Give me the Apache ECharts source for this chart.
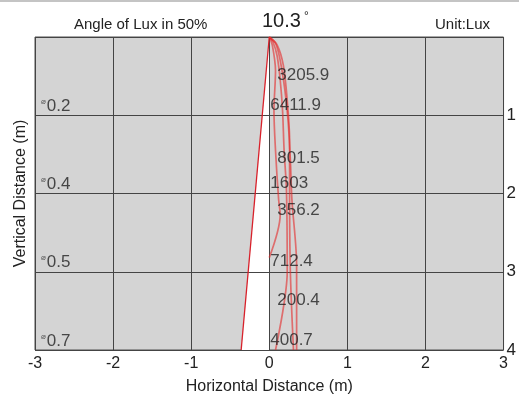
<!DOCTYPE html>
<html>
<head>
<meta charset="utf-8">
<title>Angle of Lux</title>
<script src="https://cdn.jsdelivr.net/npm/echarts@6/dist/echarts.min.js"></script>
<style>
  html, body { margin: 0; padding: 0; background: #fff; }
  #chart { width: 519px; height: 407px; }
</style>
</head>
<body>
<div id="chart"></div>
<script>
// distances (m) and beam data
const distances = [1, 2, 3, 4]
const diameters = ['0.2', '0.4', '0.5', '0.7']
const centerLux = [6411.9, 1603, 712.4, 400.7]
const halfLux = [3205.9, 801.5, 356.2, 200.4]
const halfLuxDepth = [0.49, 1.55, 2.22, 3.36] // where the 50% labels sit
const beamAngle = '10.3'

// left edge of the beam cone
const coneEdge = [[0, 0], [-0.36, 4]]
const conePoly = [[0, 0], [-0.36, 4], [0, 4]]

// lux distribution traces (right half)
const curveA = [[0, 0], [0.05, 0.07], [0.10, 0.24], [0.14, 0.55], [0.17, 0.94], [0.19, 1.45], [0.22, 1.96], [0.23, 3.0], [0.08, 4.0]]
const curveB = [[0, 0], [0.08, 0.08], [0.14, 0.30], [0.20, 0.68], [0.24, 1.06], [0.27, 1.57], [0.29, 2.08], [0.35, 2.91], [0.35, 4.0]]
const curveC = [[0, 0], [0.04, 0.11], [0.08, 0.43], [0.06, 0.94], [0.08, 1.45], [0.12, 2.08], [0.14, 2.27], [0, 2.82]]
const curveD = [[0, 0], [0.10, 0.10], [0.18, 0.36], [0.23, 0.81], [0.26, 1.32], [0.26, 1.96], [0.27, 3.0], [0.31, 4.0]]

const chart = echarts.init(document.getElementById('chart'), null, { renderer: 'canvas' })

const font = 'Arial, "Liberation Sans", sans-serif'
const curveStyle = { color: 'rgba(228, 40, 40, 0.6)', width: 1.7 }

function curve(data) {
	return {
		type: 'line',
		data: data,
		symbol: 'none',
		smooth: 0.3,
		z: 5,
		lineStyle: curveStyle,
		silent: true
	}
}

chart.setOption({
	animation: false,
	textStyle: { fontFamily: font },
	graphic: [{
		type: 'rect',
		shape: { x: 0, y: 0, width: 519, height: 2 },
		style: { fill: '#c4c4c4' },
		silent: true
	}],
	title: [{
		text: 'Angle of Lux in 50%',
		left: 69, top: 12,
		textStyle: { fontSize: 15, fontWeight: 'normal', color: '#222', fontFamily: font }
	}, {
		text: beamAngle + '{s|°}',
		left: 257, top: 6,
		textStyle: {
			fontSize: 20, fontWeight: 'normal', color: '#222', fontFamily: font,
			rich: { s: { fontSize: 12, color: '#222', verticalAlign: 'top', padding: [0, 0, 8, 3] } }
		}
	}, {
		text: 'Unit:Lux',
		left: 430, top: 12,
		textStyle: { fontSize: 15, fontWeight: 'normal', color: '#222', fontFamily: font }
	}],
	grid: {
		left: 35, right: 15, top: 37, bottom: 57,
		show: true,
		backgroundColor: '#d4d4d4',
		borderColor: '#505050',
		borderWidth: 1
	},
	xAxis: {
		type: 'value',
		min: -3, max: 3, interval: 1,
		z: 3,
		name: 'Horizontal Distance (m)',
		nameLocation: 'middle',
		nameGap: 29,
		nameTextStyle: { fontSize: 16, color: '#222', fontFamily: font },
		axisLine: { show: false },
		axisTick: { show: false },
		axisLabel: { fontSize: 16, color: '#222', margin: 6, fontFamily: font },
		splitLine: { show: true, lineStyle: { color: '#444', width: 1 } }
	},
	yAxis: [{
		type: 'value',
		min: 0, max: 4, interval: 1,
		inverse: true,
		position: 'right',
		z: 3,
		axisLine: { show: false },
		axisTick: { show: false },
		axisLabel: {
			fontSize: 17, color: '#222', margin: 3, fontFamily: font,
			showMinLabel: false,
			padding: [2, 0, 0, 0]
		},
		splitLine: { show: true, lineStyle: { color: '#444', width: 1 } }
	}, {
		type: 'value',
		min: 0, max: 4,
		inverse: true,
		position: 'left',
		name: 'Vertical Distance (m)',
		nameLocation: 'middle',
		nameGap: 6,
		nameRotate: 90,
		nameTextStyle: { fontSize: 16, color: '#222', fontFamily: font },
		axisLine: { show: false },
		axisTick: { show: false },
		axisLabel: { show: false },
		splitLine: { show: false }
	}],
	series: [{
		// white half cone
		type: 'custom',
		z: 2,
		silent: true,
		data: [0],
		renderItem: function (params, api) {
			return {
				type: 'polygon',
				shape: { points: conePoly.map(p => api.coord(p)) },
				style: { fill: '#ffffff' }
			}
		}
	}, {
		type: 'line',
		data: coneEdge,
		symbol: 'none',
		z: 5,
		silent: true,
		lineStyle: { color: '#d8202a', width: 1.3 }
	},
	curve(curveA), curve(curveB), curve(curveC), curve(curveD),
	{
		// lux at the beam centre
		type: 'scatter',
		symbolSize: 0,
		z: 6,
		data: distances.map((d, i) => [0, d, centerLux[i]]),
		label: {
			show: true,
			position: 'right',
			distance: 1,
			offset: [0, -10],
			fontSize: 17,
			color: '#222',
			fontFamily: font,
			formatter: p => String(p.value[2])
		}
	}, {
		// 50% lux
		type: 'scatter',
		symbolSize: 0,
		z: 6,
		data: halfLuxDepth.map((d, i) => [0, d, halfLux[i]]),
		label: {
			show: true,
			position: 'right',
			distance: 8,
			fontSize: 17,
			color: '#222',
			fontFamily: font,
			formatter: p => String(p.value[2])
		}
	}, {
		// spot diameters
		type: 'scatter',
		symbolSize: 0,
		z: 6,
		data: distances.map((d, i) => [-3, d, diameters[i]]),
		label: {
			show: true,
			position: 'right',
			distance: 6,
			offset: [0, -9],
			formatter: p => '{s|\u2300}{v|' + p.value[2] + '}',
			rich: {
				s: { fontSize: 8, color: '#333', fontFamily: 'DejaVu Sans', verticalAlign: 'top', padding: [0, 1, 6, 0] },
				v: { fontSize: 17, color: '#222', fontFamily: font }
			}
		}
	}]
})
</script>
</body>
</html>
